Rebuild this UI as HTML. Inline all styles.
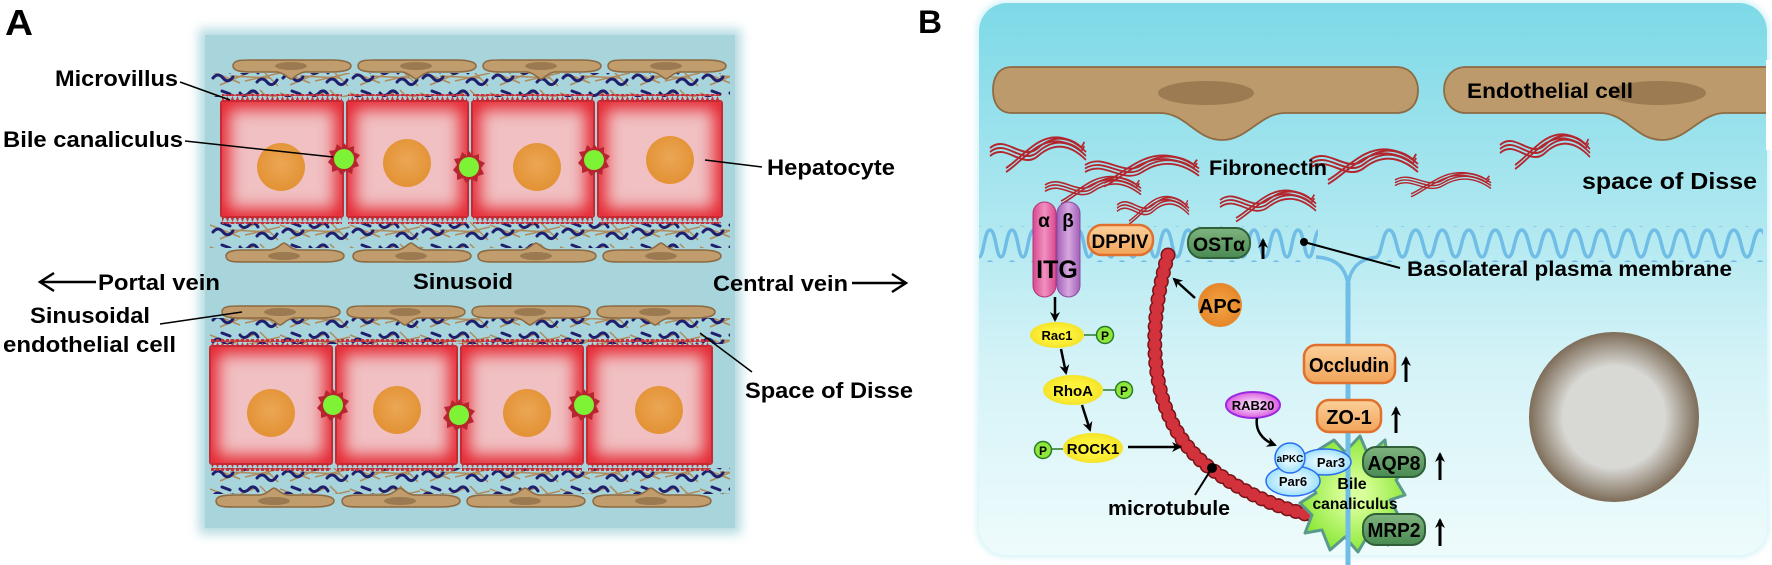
<!DOCTYPE html>
<html><head><meta charset="utf-8"><style>
html,body{margin:0;padding:0;background:#fff;}
#root{position:relative;width:1772px;height:565px;overflow:hidden;background:#fff;font-family:"Liberation Sans",sans-serif;}
.abg{position:absolute;left:205px;top:35px;width:530px;height:493px;background:#a8d5dc;box-shadow:0 0 10px 6px rgba(168,213,220,0.85);}
.bbg{position:absolute;left:979px;top:3px;width:788px;height:552px;border-radius:28px;background:linear-gradient(#7dd9e7 0%,#a9e6ef 35%,#d4f3f7 65%,#eefbfc 100%);box-shadow:0 0 6px 3px rgba(200,240,245,0.7);}
.hep{position:absolute;background:#f0c0c2;box-shadow:inset 0 0 16px 7px #e5242f;border:2px solid #c62a34;border-radius:3px;box-sizing:border-box;}
svg{position:absolute;left:0;top:0;}
</style></head><body><div id="root">
<div class="abg"></div>
<div class="bbg"></div>

<svg width="1772" height="565">
<defs>
<pattern id="fib" x="0" y="0" width="70" height="22" patternUnits="userSpaceOnUse">
<path d="M0,5 L30,17 M10,19 L45,4 M35,15 L70,7 M50,2 L68,20 M20,10 L60,12" stroke="#b08a5a" stroke-width="1.5" fill="none"/>
<path d="M3,12 q5,-6 10,0 t10,-1 M30,5 q4,5 9,0 t9,2 M47,16 q5,-6 10,0 t10,-2 M12,3 l8,3" stroke="#1f1f6e" stroke-width="3" fill="none" stroke-linecap="round"/>
</pattern>
<g id="endo">
<path d="M2,6 C2,0 10,0 20,0 L100,0 C112,0 120,2 120,6 C120,10 112,12 100,12 L74,12 C66,13 64,18 60,19 C56,18 54,13 46,12 L20,12 C10,12 2,11 2,6Z" fill="#c19c6c" stroke="#8c6a42" stroke-width="1.5"/>
<ellipse cx="60" cy="6" rx="16" ry="4" fill="#9b7a52"/>
</g>
<g id="endoU">
<path d="M2,13 C2,19 10,19 20,19 L100,19 C112,19 120,17 120,13 C120,9 112,7 100,7 L74,7 C66,6 64,1 60,0 C56,1 54,6 46,7 L20,7 C10,7 2,8 2,13Z" fill="#c19c6c" stroke="#8c6a42" stroke-width="1.5"/>
<ellipse cx="60" cy="13" rx="16" ry="4" fill="#9b7a52"/>
</g>
</defs>
<rect x="210" y="73" width="520" height="24" fill="url(#fib)"/>
<rect x="210" y="222" width="520" height="26" fill="url(#fib)"/>
<rect x="210" y="318" width="520" height="26" fill="url(#fib)"/>
<rect x="210" y="468" width="520" height="26" fill="url(#fib)"/>
<use href="#endo" x="231" y="60"/><use href="#endo" x="356" y="60"/><use href="#endo" x="481" y="60"/><use href="#endo" x="606" y="60"/>
<use href="#endoU" x="224" y="243"/><use href="#endoU" x="351" y="243"/><use href="#endoU" x="476" y="243"/><use href="#endoU" x="601" y="243"/>
<use href="#endo" x="220" y="306"/><use href="#endo" x="345" y="306"/><use href="#endo" x="470" y="306"/><use href="#endo" x="595" y="306"/>
<use href="#endoU" x="214" y="488"/><use href="#endoU" x="340" y="488"/><use href="#endoU" x="465" y="488"/><use href="#endoU" x="591" y="488"/>
</svg>

<div class="hep" style="left:220px;top:100px;width:124px;height:118px"></div>
<div class="hep" style="left:346px;top:100px;width:123px;height:118px"></div>
<div class="hep" style="left:471px;top:100px;width:124px;height:118px"></div>
<div class="hep" style="left:597px;top:100px;width:126px;height:118px"></div>
<div class="hep" style="left:209px;top:345px;width:124px;height:120px"></div>
<div class="hep" style="left:335px;top:345px;width:123px;height:120px"></div>
<div class="hep" style="left:460px;top:345px;width:124px;height:120px"></div>
<div class="hep" style="left:586px;top:345px;width:127px;height:120px"></div>

<svg width="1772" height="565">
<defs>
<pattern id="serr" width="5" height="6" patternUnits="userSpaceOnUse"><path d="M0,6 L2.5,0 L5,6Z" fill="#c8303a"/></pattern>
<pattern id="serrD" width="5" height="6" patternUnits="userSpaceOnUse"><path d="M0,0 L2.5,6 L5,0Z" fill="#c8303a"/></pattern>
<radialGradient id="nuc" cx="0.5" cy="0.45" r="0.55"><stop offset="0" stop-color="#eba655"/><stop offset="1" stop-color="#e39234"/></radialGradient>
<g id="canal"><polygon points="0,-16 4,-11 10,-13 10,-7 16,-4 12,1 15,7 9,9 8,15 2,12 -3,16 -6,11 -12,13 -12,7 -16,3 -12,-2 -15,-8 -9,-9 -7,-15 -2,-11" fill="#b62530"/><circle r="10" fill="#7ef234"/></g>
<radialGradient id="grey" cx="0.5" cy="0.5" r="0.5"><stop offset="0.6" stop-color="#d8d8d4"/><stop offset="1" stop-color="#7d6c58"/></radialGradient>
<linearGradient id="orng" x1="0" y1="0" x2="0" y2="1"><stop offset="0" stop-color="#fbd09a"/><stop offset="1" stop-color="#f1a459"/></linearGradient>
<linearGradient id="grn" x1="0" y1="0" x2="0" y2="1"><stop offset="0" stop-color="#7fb37f"/><stop offset="1" stop-color="#4a8a52"/></linearGradient>
<radialGradient id="yel"><stop offset="0.5" stop-color="#fff23a"/><stop offset="1" stop-color="#f3e42a"/></radialGradient>
<radialGradient id="apc"><stop offset="0" stop-color="#f4a646"/><stop offset="1" stop-color="#e5862a"/></radialGradient>
<radialGradient id="cyan"><stop offset="0.4" stop-color="#dcf6ff"/><stop offset="1" stop-color="#9fe0fb"/></radialGradient>
<radialGradient id="mag"><stop offset="0.3" stop-color="#f4c8f4"/><stop offset="1" stop-color="#dc5ee0"/></radialGradient>
<radialGradient id="star"><stop offset="0.2" stop-color="#d9ff9a"/><stop offset="1" stop-color="#8ee83a"/></radialGradient>
<linearGradient id="pa" x1="0" x2="1"><stop offset="0" stop-color="#d84890"/><stop offset="0.5" stop-color="#f090c0"/><stop offset="1" stop-color="#d84890"/></linearGradient>
<linearGradient id="pb" x1="0" x2="1"><stop offset="0" stop-color="#a060b8"/><stop offset="0.5" stop-color="#d8a8e0"/><stop offset="1" stop-color="#a060b8"/></linearGradient>
<pattern id="wave1" x="979" y="228" width="22" height="32" patternUnits="userSpaceOnUse"><path d="M0,29 C5,29 5,2 11,2 C17,2 17,29 22,29" stroke="#70bde6" stroke-width="3.5" fill="none"/></pattern>
<pattern id="wave2" x="1376" y="228" width="26.5" height="32" patternUnits="userSpaceOnUse"><path d="M0,29 C6,29 6,2 13.25,2 C20.5,2 20.5,29 26.5,29" stroke="#70bde6" stroke-width="3.5" fill="none"/></pattern>
<g id="fn" fill="none" stroke="#b3262e" stroke-width="2">
<path d="M0,0 C20,-14 40,14 60,0 S100,-12 120,4"/><path d="M0,4 C20,-10 40,18 60,4 S100,-8 120,8"/><path d="M0,8 C20,-6 40,22 60,8 S100,-4 120,12"/>
<path d="M20,20 C40,10 60,-15 90,-10 S110,5 118,-6"/><path d="M20,24 C40,14 60,-11 90,-6 S110,9 118,-2"/></g>
<marker id="ah" markerWidth="10" markerHeight="10" refX="8" refY="5" orient="auto" markerUnits="userSpaceOnUse"><path d="M0,0 L10,5 L0,10 L3,5Z" fill="#000"/></marker>
</defs>

<g>
<rect x="222" y="94" width="120" height="6" fill="url(#serr)"/><rect x="348" y="94" width="119" height="6" fill="url(#serr)"/><rect x="473" y="94" width="120" height="6" fill="url(#serr)"/><rect x="599" y="94" width="122" height="6" fill="url(#serr)"/>
<rect x="222" y="218" width="120" height="6" fill="url(#serrD)"/><rect x="348" y="218" width="119" height="6" fill="url(#serrD)"/><rect x="473" y="218" width="120" height="6" fill="url(#serrD)"/><rect x="599" y="218" width="122" height="6" fill="url(#serrD)"/>
<rect x="211" y="339" width="120" height="6" fill="url(#serr)"/><rect x="337" y="339" width="119" height="6" fill="url(#serr)"/><rect x="462" y="339" width="120" height="6" fill="url(#serr)"/><rect x="588" y="339" width="123" height="6" fill="url(#serr)"/>
<rect x="211" y="465" width="120" height="6" fill="url(#serrD)"/><rect x="337" y="465" width="119" height="6" fill="url(#serrD)"/><rect x="462" y="465" width="120" height="6" fill="url(#serrD)"/><rect x="588" y="465" width="123" height="6" fill="url(#serrD)"/>
</g>
<g fill="url(#nuc)">
<ellipse cx="281" cy="167" rx="24" ry="24"/><ellipse cx="407" cy="163" rx="24" ry="24"/><ellipse cx="537" cy="167" rx="24" ry="24"/><ellipse cx="670" cy="160" rx="24" ry="24"/>
<ellipse cx="271" cy="413" rx="24" ry="24"/><ellipse cx="397" cy="410" rx="24" ry="24"/><ellipse cx="527" cy="413" rx="24" ry="24"/><ellipse cx="659" cy="410" rx="24" ry="24"/>
</g>
<use href="#canal" x="344" y="159"/><use href="#canal" x="469" y="167"/><use href="#canal" x="594" y="160"/>
<use href="#canal" x="333" y="405"/><use href="#canal" x="459" y="415"/><use href="#canal" x="584" y="405"/>

<g font-family="Liberation Sans, sans-serif" font-weight="bold" fill="#000" font-size="22">
<text x="5" y="35" font-size="36" textLength="28" lengthAdjust="spacingAndGlyphs">A</text>
<text x="55" y="86" textLength="123" lengthAdjust="spacingAndGlyphs">Microvillus</text>
<text x="3" y="147" textLength="180" lengthAdjust="spacingAndGlyphs">Bile canaliculus</text>
<text x="98" y="290" textLength="122" lengthAdjust="spacingAndGlyphs">Portal vein</text>
<text x="413" y="289" textLength="100" lengthAdjust="spacingAndGlyphs">Sinusoid</text>
<text x="30" y="323" textLength="120" lengthAdjust="spacingAndGlyphs">Sinusoidal</text>
<text x="3" y="352" textLength="173" lengthAdjust="spacingAndGlyphs">endothelial cell</text>
<text x="767" y="175" textLength="128" lengthAdjust="spacingAndGlyphs">Hepatocyte</text>
<text x="713" y="291" textLength="135" lengthAdjust="spacingAndGlyphs">Central vein</text>
<text x="745" y="398" textLength="168" lengthAdjust="spacingAndGlyphs">Space of Disse</text>
</g>
<g stroke="#000" stroke-width="1.5" fill="none">
<path d="M180,82 L230,100"/><path d="M185,141 L333,157"/><path d="M160,324 L242,312"/>
<path d="M705,160 L762,167"/><path d="M700,333 L752,372"/>
</g>
<g stroke="#000" stroke-width="2.5" fill="none">
<path d="M96,282 L40,282 M54,273 L40,282 L54,291"/>
<path d="M852,283 L906,283 M892,274 L906,283 L892,292"/>
</g>

<text x="918" y="33" font-size="32" font-weight="bold" textLength="24" lengthAdjust="spacingAndGlyphs">B</text>
<path d="M1012,67 L1396,67 C1412,67 1418,80 1418,90 C1418,104 1410,113 1396,113 L1285,113 C1260,113 1248,140 1222,140 C1196,140 1186,113 1160,113 L1012,113 C998,113 993,102 993,90 C993,78 998,67 1012,67Z" fill="#bd9a6c" stroke="#8d6b43" stroke-width="1.8"/>
<ellipse cx="1206" cy="93" rx="48" ry="12" fill="#9c7a52"/>
<path d="M1466,67 L1780,67 L1780,113 L1725,113 C1700,113 1688,140 1662,140 C1636,140 1626,113 1600,113 L1466,113 C1452,113 1444,102 1444,90 C1444,78 1452,67 1466,67Z" fill="#bd9a6c" stroke="#8d6b43" stroke-width="1.8"/>
<ellipse cx="1658" cy="93" rx="48" ry="12" fill="#9c7a52"/>
<rect x="1766" y="60" width="10" height="90" fill="#fff"/>
<use href="#fn" transform="translate(990,148) scale(0.8,1)"/>
<use href="#fn" transform="translate(1085,165) scale(0.95,0.9)"/>
<use href="#fn" transform="translate(1045,185) scale(0.8,0.8)"/>
<use href="#fn" transform="translate(1310,160) scale(0.9,1)"/>
<use href="#fn" transform="translate(1395,180) scale(0.8,0.7)"/>
<use href="#fn" transform="translate(1500,145) scale(0.75,1)"/>
<use href="#fn" transform="translate(1117,205) scale(0.6,0.8)"/>
<use href="#fn" transform="translate(1220,200) scale(0.8,0.9)"/>
<rect x="979" y="226" width="339" height="36" fill="url(#wave1)"/>
<rect x="1376" y="226" width="387" height="36" fill="url(#wave2)"/>
<path d="M1316,257 C1330,258 1345,262 1348,285 C1351,262 1366,258 1378,257" stroke="#70bde6" stroke-width="3.5" fill="none"/>
<path d="M1348,283 L1348,565" stroke="#70bde6" stroke-width="5"/>
<circle cx="1614" cy="417" r="85" fill="url(#grey)"/>
<rect x="1033" y="202" width="23" height="95" rx="11.5" fill="url(#pa)" stroke="#b03478" stroke-width="1"/>
<rect x="1057" y="202" width="23" height="95" rx="11.5" fill="url(#pb)" stroke="#8a4aa0" stroke-width="1"/>
<g font-weight="bold" fill="#000">
<text x="1044" y="227" font-size="19" text-anchor="middle">α</text>
<text x="1068" y="227" font-size="19" text-anchor="middle">β</text>
<text x="1057" y="278" font-size="25" text-anchor="middle">ITG</text>
</g>
<rect x="1088" y="225" width="65" height="30" rx="14" fill="url(#orng)" stroke="#e0702e" stroke-width="2.5"/>
<text x="1120" y="248" font-size="19" font-weight="bold" text-anchor="middle" textLength="57" lengthAdjust="spacingAndGlyphs">DPPIV</text>
<rect x="1188" y="228" width="62" height="30" rx="14" fill="url(#grn)" stroke="#2f6038" stroke-width="2"/>
<text x="1219" y="251" font-size="19" font-weight="bold" text-anchor="middle" textLength="52" lengthAdjust="spacingAndGlyphs">OSTα</text>
<rect x="1304" y="345" width="91" height="38" rx="12" fill="url(#orng)" stroke="#e0702e" stroke-width="2.5"/>
<text x="1349" y="372" font-size="20" font-weight="bold" text-anchor="middle" textLength="80" lengthAdjust="spacingAndGlyphs">Occludin</text>
<!-- microtubule beads -->
<path d="M1168,255 C1146,330 1146,420 1210,468 C1250,498 1290,512 1320,517" stroke="#7a1218" stroke-width="15" fill="none" stroke-dasharray="0.1 9" stroke-linecap="round"/>
<path d="M1168,255 C1146,330 1146,420 1210,468 C1250,498 1290,512 1320,517" stroke="#d2323c" stroke-width="12" fill="none" stroke-dasharray="0.1 9" stroke-linecap="round"/>
<path d="M1334,440 L1345,452 L1360,436 L1368,455 L1385,440 L1388,462 L1408,465 L1396,480 L1405,495 L1390,500 L1400,518 L1383,520 L1388,545 L1368,535 L1358,552 L1345,537 L1330,550 L1322,530 L1305,533 L1312,515 L1300,503 L1316,493 L1306,478 L1322,470 L1318,450Z" fill="url(#star)" stroke="#5a9a8a" stroke-width="3" stroke-linejoin="round"/>
<path d="M1348,440 L1348,565" stroke="#70bde6" stroke-width="5"/>
<rect x="1317" y="400" width="64" height="32" rx="12" fill="url(#orng)" stroke="#e0702e" stroke-width="2.5"/>
<text x="1349" y="424" font-size="20" font-weight="bold" text-anchor="middle">ZO-1</text>
<rect x="1363" y="447" width="62" height="30" rx="13" fill="url(#grn)" stroke="#2f6038" stroke-width="2"/>
<text x="1394" y="470" font-size="20" font-weight="bold" text-anchor="middle" textLength="53" lengthAdjust="spacingAndGlyphs">AQP8</text>
<rect x="1363" y="514" width="62" height="31" rx="13" fill="url(#grn)" stroke="#2f6038" stroke-width="2"/>
<text x="1394" y="537" font-size="20" font-weight="bold" text-anchor="middle" textLength="53" lengthAdjust="spacingAndGlyphs">MRP2</text>
<g font-weight="bold" font-size="16" text-anchor="middle">
<text x="1352" y="489">Bile</text>
<text x="1355" y="509" textLength="85" lengthAdjust="spacingAndGlyphs">canaliculus</text>
</g>
<ellipse cx="1325" cy="462" rx="26" ry="13" fill="url(#cyan)" stroke="#2a6ef0" stroke-width="1.5"/>
<ellipse cx="1293" cy="481" rx="27" ry="15" fill="url(#cyan)" stroke="#2a6ef0" stroke-width="1.5"/>
<circle cx="1290" cy="458" r="15" fill="url(#cyan)" stroke="#2a6ef0" stroke-width="1.5"/>
<g font-weight="bold" text-anchor="middle">
<text x="1290" y="462" font-size="10">aPKC</text>
<text x="1331" y="467" font-size="13">Par3</text>
<text x="1293" y="486" font-size="13">Par6</text>
</g>
<ellipse cx="1253" cy="405" rx="27" ry="13" fill="url(#mag)" stroke="#9a2ae0" stroke-width="2"/>
<text x="1253" y="410" font-size="13" font-weight="bold" text-anchor="middle">RAB20</text>
<path d="M1257,418 C1255,430 1262,440 1275,445" stroke="#000" stroke-width="2.5" fill="none" marker-end="url(#ah)"/>
<circle cx="1220" cy="305" r="22" fill="url(#apc)"/>
<text x="1220" y="313" font-size="20" font-weight="bold" text-anchor="middle">APC</text>
<path d="M1195,298 L1174,279" stroke="#000" stroke-width="2.5" marker-end="url(#ah)"/>
<path d="M1055,297 L1055,320" stroke="#000" stroke-width="2.5" marker-end="url(#ah)"/>
<ellipse cx="1057" cy="335" rx="27" ry="13" fill="url(#yel)"/>
<text x="1057" y="340" font-size="13" font-weight="bold" text-anchor="middle">Rac1</text>
<path d="M1084,335 L1096,335" stroke="#2a7a2a" stroke-width="1.5"/>
<circle cx="1105" cy="335" r="8.5" fill="#8ee83a" stroke="#2a7a2a" stroke-width="1.5"/>
<text x="1105" y="340" font-size="12" font-weight="bold" text-anchor="middle">P</text>
<path d="M1061,349 L1066,373" stroke="#000" stroke-width="2.5" marker-end="url(#ah)"/>
<ellipse cx="1073" cy="390" rx="30" ry="15" fill="url(#yel)"/>
<text x="1073" y="396" font-size="15" font-weight="bold" text-anchor="middle">RhoA</text>
<path d="M1103,390 L1116,390" stroke="#2a7a2a" stroke-width="1.5"/>
<circle cx="1124" cy="390" r="8.5" fill="#8ee83a" stroke="#2a7a2a" stroke-width="1.5"/>
<text x="1124" y="395" font-size="12" font-weight="bold" text-anchor="middle">P</text>
<path d="M1082,405 L1090,430" stroke="#000" stroke-width="2.5" marker-end="url(#ah)"/>
<ellipse cx="1093" cy="448" rx="30" ry="15" fill="url(#yel)"/>
<text x="1093" y="454" font-size="15" font-weight="bold" text-anchor="middle">ROCK1</text>
<path d="M1052,449 L1063,449" stroke="#2a7a2a" stroke-width="1.5"/>
<circle cx="1043" cy="450" r="8.5" fill="#8ee83a" stroke="#2a7a2a" stroke-width="1.5"/>
<text x="1043" y="455" font-size="12" font-weight="bold" text-anchor="middle">P</text>
<path d="M1128,447 L1180,447" stroke="#000" stroke-width="2.5" marker-end="url(#ah)"/>
<g stroke="#000" stroke-width="3" fill="none" marker-end="url(#ah)">
<path d="M1263,259 L1263,240"/><path d="M1406,382 L1406,358"/><path d="M1396,433 L1396,408"/>
<path d="M1440,480 L1440,454"/><path d="M1440,546 L1440,520"/>
</g>
<circle cx="1304" cy="242" r="4" fill="#000"/>
<path d="M1304,242 L1400,268" stroke="#000" stroke-width="2"/>
<circle cx="1212" cy="468" r="5" fill="#000"/>
<path d="M1212,468 L1195,495" stroke="#000" stroke-width="2"/>
<g font-weight="bold" fill="#000">
<text x="1467" y="98" font-size="21" textLength="166" lengthAdjust="spacingAndGlyphs">Endothelial cell</text>
<text x="1209" y="175" font-size="21" textLength="118" lengthAdjust="spacingAndGlyphs">Fibronectin</text>
<text x="1582" y="189" font-size="23" textLength="175" lengthAdjust="spacingAndGlyphs">space of Disse</text>
<text x="1407" y="276" font-size="21" textLength="325" lengthAdjust="spacingAndGlyphs">Basolateral plasma membrane</text>
<text x="1108" y="515" font-size="20" textLength="122" lengthAdjust="spacingAndGlyphs">microtubule</text>
</g>
</svg>
</div></body></html>
